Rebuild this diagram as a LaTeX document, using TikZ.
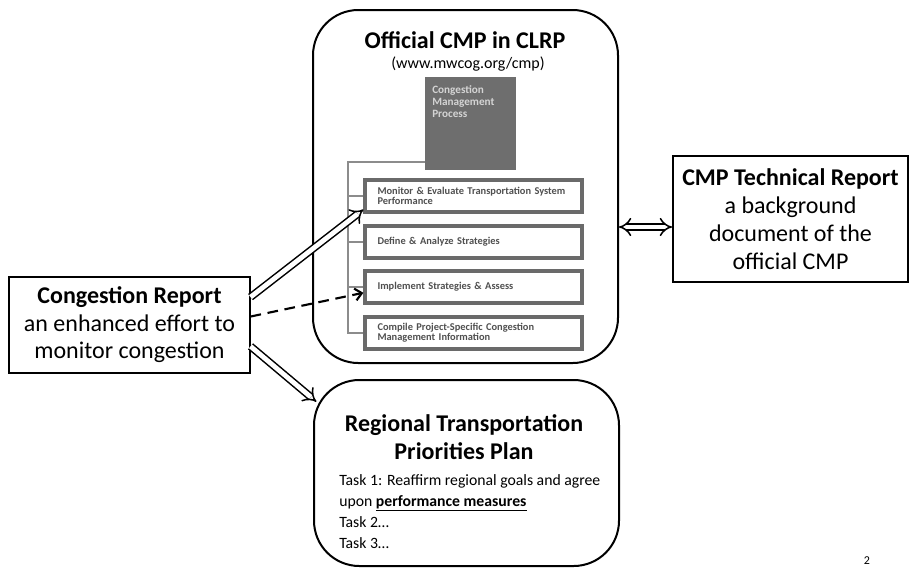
\documentclass[tikz,border=0pt]{standalone}
\usepackage{fontspec}
\setmainfont{Carlito}
\usetikzlibrary{arrows.meta,calc}

\definecolor{procgray}{HTML}{6A6A6A}
\definecolor{proctext}{HTML}{505050}
\definecolor{darkfill}{HTML}{6E6E6E}
\definecolor{darktext}{HTML}{D4D4D4}
\definecolor{linkgray}{HTML}{8C8C8C}

\tikzset{
  bigfont/.style={font=\fontsize{18}{20.6}\selectfont},
  roundbox/.style={draw, line width=1.5pt, rounded corners=34pt, minimum width=228.75pt},
  procbox/.style={draw=procgray, line width=2.4pt, fill=white, minimum width=162.75pt, minimum height=24pt,
    inner xsep=9pt, text width=144pt, align=left, font=\bfseries\fontsize{7.8}{7.6}\selectfont, text=proctext},
  link/.style={draw=linkgray, line width=1.8pt},
  hollow/.style={draw, line width=1.15pt, double=white, double distance=3.6pt, -{Implies}},
  dashlink/.style={line width=1.6pt, dash pattern=on 8pt off 5pt, -{Straight Barb[length=5pt,width=9pt]}},
}

\begin{document}
\begin{tikzpicture}[x=0.75pt, y=-0.75pt]
  \useasboundingbox (0,0) rectangle (915,569);
  \node[roundbox, minimum height=264.75pt] (cmp) at (465.5,186.5) {};
  \node[font=\bfseries\fontsize{18}{20}\selectfont] (cmptitle) at (465,40) {Official CMP in CLRP};
  \node[font=\fontsize{12}{14}\selectfont] (cmpurl) at (468,64) {(www.mwcog.org/cmp)};
  \node[fill=darkfill, minimum width=68.25pt, minimum height=69.75pt] (dark) at (470.5,123.5) {};
  \node[anchor=north west, inner sep=0pt, align=left, text=darktext, font=\bfseries\fontsize{8.4}{9}\selectfont] (darktxt) at (432,85) {Congestion\\Management\\Process};
  \node[procbox] (box1) at (473.5,196) {Monitor \& Evaluate Transportation System\\Performance};
  \node[procbox] (box2) at (473.5,242) {Define \& Analyze Strategies};
  \node[procbox] (box3) at (473.5,287) {Implement Strategies \& Assess};
  \node[procbox] (box4) at (473.5,333) {Compile Project-Specific Congestion\\Management Information};
  \coordinate (trunk) at (348,162);
  \draw[link] (dark.west |- trunk) -- (trunk) |- (box4.west);
  \foreach \b in {box1,box2,box3}
    \draw[link] (trunk |- \b.west) -- (\b.west);

  \node[draw, line width=0.8pt, minimum width=180.75pt, minimum height=72pt, align=center, bigfont] (cong) at (129.5,325) {\textbf{Congestion Report}\\an enhanced effort to\\monitor congestion};
  \node[draw, line width=1.5pt, minimum width=176.25pt, minimum height=94.5pt, align=center, font=\fontsize{18}{21}\selectfont] (tech) at (790.5,219) {\textbf{CMP Technical Report}\\a background\\document of the\\official CMP};

  \node[roundbox, minimum height=139.5pt] (plan) at (466.5,473) {};
  \node[align=center, font=\bfseries\fontsize{18}{21}\selectfont] (plantitle) at (464,437) {Regional Transportation\\Priorities Plan};
  \node[anchor=north west, inner sep=0pt, align=left, font=\fontsize{11.8}{15.75}\selectfont] (tasks) at (339,474) {Task 1: Reaffirm regional goals and agree\\upon \underline{\textbf{performance measures}}\\Task 2\dots\\Task 3\dots};
  \node[font=\fontsize{9}{10}\selectfont] (pagenum) at (867,561) {2};

  \draw[hollow] (cong.13) -- (box1.187);
  \draw[dashlink] (cong.4) -- (box3.183);
  \draw[hollow] (cong.-10) -- ([xshift=2.5pt,yshift=-17pt]plan.north west);
  \coordinate (tie) at (645,227);
  \draw[hollow, {Implies}-{Implies}] (cmp.east |- tie) -- (tech.west |- tie);
\end{tikzpicture}
\end{document}
